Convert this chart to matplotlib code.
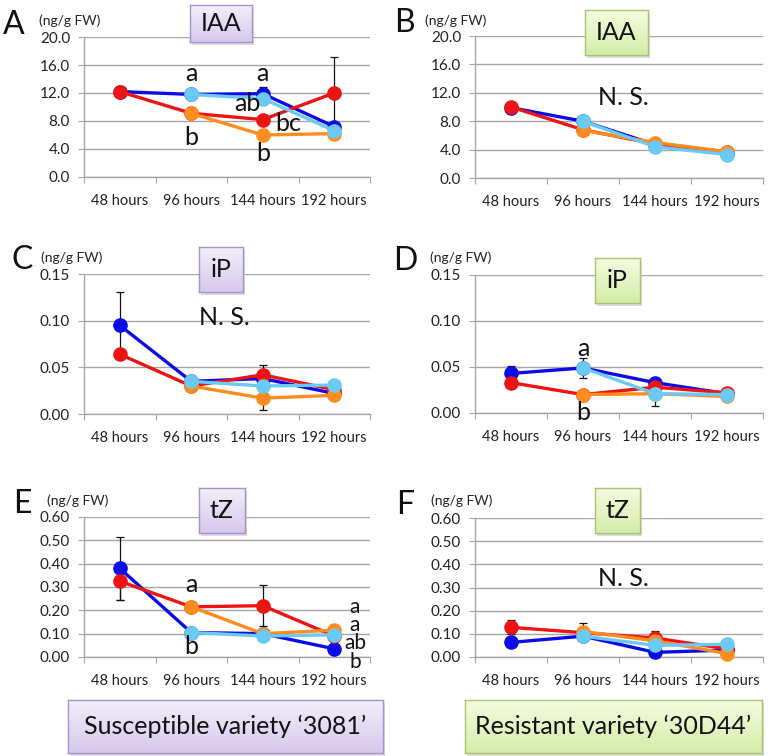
import numpy as np
import matplotlib
matplotlib.use("Agg")
import matplotlib.pyplot as plt
from matplotlib.patches import Rectangle
from matplotlib.colors import LinearSegmentedColormap

plt.rcParams['font.family'] = ['Lato', 'DejaVu Sans']

W, H = 776, 756
DPI = 100

hours = ['48 hours', '96 hours', '144 hours', '192 hours']
nan = np.nan

# ---- data (blue, red, orange, light blue) ----
A_blue = [12.2, 11.8, 11.9, 7.2];  A_blue_err = [0.7, 0.3, 1.0, 0.3]
A_red = [12.2, 9.1, 8.2, 12.0];    A_red_err = [0.7, 0.3, 0.3, 5.2]
A_orange = [nan, 9.1, 6.0, 6.2];   A_orange_err = [nan, 0.3, 0.3, 0.3]
A_lblue = [nan, 11.8, 11.2, 6.6];  A_lblue_err = [nan, 0.3, 0.3, 0.3]

B_blue = [9.9, 8.0, 4.7, 3.4];     B_blue_err = [0.3, 0.3, 0.3, 0.2]
B_red = [10.0, 6.8, 4.8, 3.7];     B_red_err = [0.3, 0.3, 0.3, 0.2]
B_orange = [nan, 6.7, 5.0, 3.7];   B_orange_err = [nan, 0.3, 0.3, 0.2]
B_lblue = [nan, 8.0, 4.4, 3.3];    B_lblue_err = [nan, 0.3, 0.3, 0.2]

C_blue = [0.095, 0.035, 0.038, 0.022];  C_blue_err = [0.036, 0.003, 0.003, 0.002]
C_red = [0.064, 0.030, 0.042, 0.026];   C_red_err = [0.005, 0.005, 0.011, 0.002]
C_orange = [nan, 0.030, 0.017, 0.020];  C_orange_err = [nan, 0.005, 0.013, 0.002]
C_lblue = [nan, 0.035, 0.030, 0.031];   C_lblue_err = [nan, 0.003, 0.003, 0.002]

D_blue = [0.043, 0.049, 0.033, 0.021];  D_blue_err = [0.008, 0.003, 0.003, 0.002]
D_red = [0.033, 0.020, 0.028, 0.022];   D_red_err = [0.003, 0.002, 0.003, 0.002]
D_orange = [nan, 0.020, 0.021, 0.018];  D_orange_err = [nan, 0.002, 0.003, 0.002]
D_lblue = [nan, 0.049, 0.021, 0.020];   D_lblue_err = [nan, 0.011, 0.013, 0.002]

E_blue = [0.38, 0.105, 0.100, 0.035];   E_blue_err = [0.135, 0.01, 0.01, 0.01]
E_red = [0.325, 0.215, 0.220, 0.090];   E_red_err = [0.080, 0.02, 0.088, 0.01]
E_orange = [nan, 0.215, 0.100, 0.115];  E_orange_err = [nan, 0.02, 0.01, 0.01]
E_lblue = [nan, 0.105, 0.090, 0.095];   E_lblue_err = [nan, 0.01, 0.01, 0.01]

F_blue = [0.063, 0.090, 0.020, 0.030];  F_blue_err = [0.01, 0.01, 0.01, 0.01]
F_red = [0.128, 0.105, 0.082, 0.035];   F_red_err = [0.030, 0.01, 0.030, 0.01]
F_orange = [nan, 0.110, 0.070, 0.015];  F_orange_err = [nan, 0.035, 0.01, 0.01]
F_lblue = [nan, 0.090, 0.050, 0.055];   F_lblue_err = [nan, 0.01, 0.01, 0.01]

colors = {'blue': '#0B0BE8', 'red': '#EE1414', 'orange': '#FF8C1E', 'lblue': '#6ACAF4'}
PURPLE = ('#F2EEF9', '#D6C9EC', '#A593CB')
GREEN = ('#F5FBE0', '#D3EDA8', '#A6C56C')

fig = plt.figure(figsize=(W / DPI, H / DPI), dpi=DPI)
fig.patch.set_facecolor('white')


def px_axes(x0, y0, x1, y1, **kw):
    return fig.add_axes([x0 / W, 1 - y1 / H, (x1 - x0) / W, (y1 - y0) / H], **kw)


def gradient_box(x0, y0, x1, y1, text, pal, fs):
    fig.patches.append(Rectangle(((x0 + 2) / W, 1 - (y1 + 3) / H), (x1 - x0) / W, (y1 - y0) / H,
                                 transform=fig.transFigure, facecolor='#C4C4C4', edgecolor='none',
                                 alpha=0.6, zorder=5))
    bx = px_axes(x0, y0, x1, y1)
    bx.set_zorder(6)
    grad = np.linspace(0, 1, 64)[:, None]
    cm = LinearSegmentedColormap.from_list('g', [pal[0], pal[1]])
    bx.imshow(grad, aspect='auto', cmap=cm, extent=[0, 1, 0, 1], origin='upper')
    bx.set_xticks([]); bx.set_yticks([])
    for s in bx.spines.values():
        s.set_color(pal[2]); s.set_linewidth(1.0)
    bx.text(0.5, 0.5, text, ha='center', va='center', fontsize=fs, color='#111111',
            transform=bx.transAxes)
    return bx


panels = [
    dict(key='A', rect=(84, 37, 370, 177), ymax=20.0, step=4.0, fmt='%.1f',
         data=(A_blue, A_red, A_orange, A_lblue), errs=(A_blue_err, A_red_err, A_orange_err, A_lblue_err),
         title='IAA', pal=PURPLE, tbox=(190, 5, 252, 42),
         letter=(14, 25), unit=(70, 21),
         notes=[(1.5, 14.8, 'a'), (1.5, 5.6, 'b'), (2.5, 14.8, 'a'), (2.28, 10.5, 'ab'),
                (2.85, 7.6, 'bc'), (2.5, 3.3, 'b')]),
    dict(key='B', rect=(475, 36, 763, 178), ymax=20.0, step=4.0, fmt='%.1f',
         data=(B_blue, B_red, B_orange, B_lblue), errs=(B_blue_err, B_red_err, B_orange_err, B_lblue_err),
         title='IAA', pal=GREEN, tbox=(585, 10, 648, 55),
         letter=(404, 23), unit=(456, 21),
         notes=[(2.06, 11.4, 'N. S.')]),
    dict(key='C', rect=(84, 274, 370, 414), ymax=0.15, step=0.05, fmt='%.2f',
         data=(C_blue, C_red, C_orange, C_lblue), errs=(C_blue_err, C_red_err, C_orange_err, C_lblue_err),
         title='iP', pal=PURPLE, tbox=(199, 247, 243, 292),
         letter=(22, 260), unit=(72, 258),
         notes=[(1.97, 0.103, 'N. S.')]),
    dict(key='D', rect=(475, 275, 763, 413), ymax=0.15, step=0.05, fmt='%.2f',
         data=(D_blue, D_red, D_orange, D_lblue), errs=(D_blue_err, D_red_err, D_orange_err, D_lblue_err),
         title='iP', pal=GREEN, tbox=(595, 258, 640, 303),
         letter=(405, 261), unit=(461, 258),
         notes=[(1.5, 0.070, 'a'), (1.5, 0.001, 'b')]),
    dict(key='E', rect=(84, 517, 370, 657), ymax=0.60, step=0.10, fmt='%.2f',
         data=(E_blue, E_red, E_orange, E_lblue), errs=(E_blue_err, E_red_err, E_orange_err, E_lblue_err),
         title='tZ', pal=PURPLE, tbox=(199, 488, 245, 533),
         letter=(22, 504), unit=(78, 501),
         notes=[(1.5, 0.309, 'a'), (1.5, 0.043, 'b')],
         stack=[(3.79, 0.216, 'a'), (3.79, 0.137, 'a'), (3.79, 0.062, 'ab'), (3.79, -0.022, 'b')]),
    dict(key='F', rect=(475, 518, 763, 657), ymax=0.60, step=0.10, fmt='%.2f',
         data=(F_blue, F_red, F_orange, F_lblue), errs=(F_blue_err, F_red_err, F_orange_err, F_lblue_err),
         title='tZ', pal=GREEN, tbox=(595, 488, 640, 533),
         letter=(405, 505), unit=(462, 501),
         notes=[(2.06, 0.34, 'N. S.')]),
]

order = ['blue', 'red', 'orange', 'lblue']
xc = np.arange(len(hours)) + 0.5

for p in panels:
    ax = px_axes(*p['rect'])
    ax.set_xlim(0, len(hours))
    ax.set_ylim(0, p['ymax'])
    yt = np.arange(0, p['ymax'] + p['step'] / 2, p['step'])
    ax.set_yticks(yt)
    ax.set_yticklabels([p['fmt'] % v for v in yt], fontsize=11, color='#222222')
    ax.yaxis.grid(True, color='#A6A6A6', linewidth=1.0)
    ax.set_axisbelow(True)
    ax.set_xticks(np.arange(0, len(hours) + 1))
    ax.set_xticklabels([])
    ax.set_xticks(xc, minor=True)
    ax.set_xticklabels(hours, minor=True, fontsize=10.5, color='#222222')
    ax.tick_params(axis='x', which='major', length=4, color='#A6A6A6', direction='out')
    ax.tick_params(axis='x', which='minor', length=0, pad=12)
    ax.tick_params(axis='y', length=4, color='#A6A6A6', pad=6)
    for s in ('top', 'right'):
        ax.spines[s].set_visible(False)
    for s in ('left', 'bottom'):
        ax.spines[s].set_color('#A6A6A6')
        ax.spines[s].set_linewidth(1.0)

    for i, (name, vals, err) in enumerate(zip(order, p['data'], p['errs'])):
        v = np.array(vals, dtype=float)
        e = np.array(err, dtype=float)
        ax.errorbar(xc, v, yerr=e, fmt='none', ecolor='#111111', elinewidth=0.9, capsize=3,
                    capthick=0.9, zorder=2 + i * 0.1)
        ax.plot(xc, v, '-o', color=colors[name], lw=2.4, ms=9.5, mec=colors[name],
                zorder=3 + i, clip_on=False)

    for (x, y, t) in p['notes']:
        ax.text(x, y, t, ha='center', va='center', fontsize=18, color='#111111', zorder=10,
                clip_on=False)
    for (x, y, t) in p.get('stack', []):
        ax.text(x, y, t, ha='center', va='center', fontsize=15, color='#111111', zorder=10,
                clip_on=False)

    fig.text(p['letter'][0] / W, 1 - p['letter'][1] / H, p['key'], fontsize=23, ha='center',
             va='center', color='#111111')
    fig.text(p['unit'][0] / W, 1 - p['unit'][1] / H, '(ng/g FW)', fontsize=10, ha='center',
             va='center', color='#222222')

    gradient_box(*p['tbox'], p['title'], p['pal'], 18)

gradient_box(68, 700, 383, 753, 'Susceptible variety \u20183081\u2019', PURPLE, 18)
gradient_box(465, 700, 762, 753, 'Resistant variety \u201830D44\u2019', GREEN, 18)

fig.savefig('out.png', dpi=DPI)
